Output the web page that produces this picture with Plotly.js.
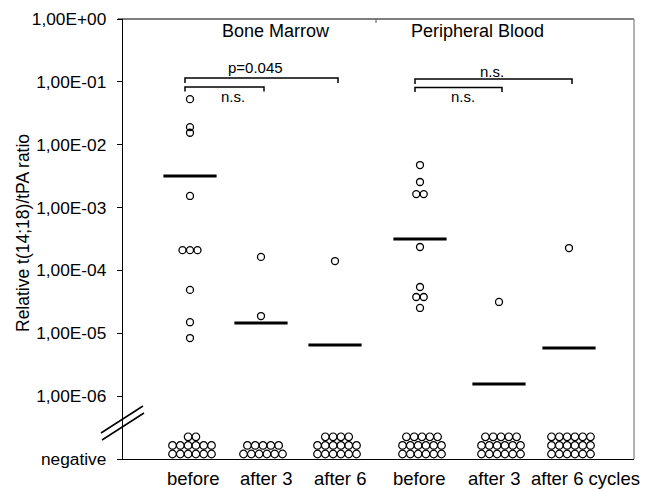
<!DOCTYPE html>
<html>
<head>
<meta charset="utf-8">
<script src="https://cdn.plot.ly/plotly-3.0.1.min.js"></script>
<style>html,body{margin:0;padding:0;background:#fff;}</style>
</head>
<body>
<div id="chart" style="width:646px;height:490px;"></div>
<script>
// ---- data ----
const tickLabels = ['before', 'after 3', 'after 6', 'before', 'after 3', 'after 6 cycles'];
const groups = ['Bone Marrow', 'Peripheral Blood'];
const bmBefore = [5.3e-2, 1.9e-2, 1.55e-2, 1.53e-3, 2.1e-4, 2.1e-4, 2.1e-4, 4.9e-5, 1.5e-5, 8.4e-6];
const bmAfter3 = [1.64e-4, 1.88e-5];
const bmAfter6 = [1.41e-4];
const pbBefore = [4.75e-3, 2.55e-3, 1.64e-3, 1.64e-3, 2.36e-4, 5.45e-5, 3.78e-5, 3.78e-5, 2.53e-5];
const pbAfter3 = [3.15e-5];
const pbAfter6 = [2.27e-4];
const medians = [3.18e-3, 1.46e-5, 6.5e-6, 3.16e-4, 1.56e-6, 5.83e-6];
const negativeCounts = [14, 11, 16, 17, 17, 18];
const yTickVals = [1e-7, 1e-6, 1e-5, 1e-4, 1e-3, 1e-2, 1e-1, 1];
const yTickText = ['negative', '1,00E-06', '1,00E-05', '1,00E-04', '1,00E-03', '1,00E-02', '1,00E-01', '1,00E+00'];
const comparisons = [
  {group: 0, from: 0, to: 2, text: 'p=0.045'},
  {group: 0, from: 0, to: 1, text: 'n.s.'},
  {group: 1, from: 3, to: 5, text: 'n.s.'},
  {group: 1, from: 3, to: 4, text: 'n.s.'}
];

// ---- layout geometry (pixels) ----
const L = 123, R = 634, T = 19, B = 459;
const catX = [190, 261, 335, 420, 499, 569];
const labelX = [193, 266, 340, 419, 494, 585];
const headerX = [276, 477];
const pxX = p => (p - L) / (R - L);
const pxY = p => (B - p) / (B - T);
const decade = (B - T) / 7;
const FONT = 'Liberation Sans, Arial, Helvetica, sans-serif';

const series = [bmBefore, bmAfter3, bmAfter6, pbBefore, pbAfter3, pbAfter6];

// points with horizontal spreading of equal values
const ptX = [], ptY = [];
series.forEach((vals, i) => {
  const seen = {};
  vals.forEach(v => { const k = v.toPrecision(3); seen[k] = (seen[k] || 0) + 1; });
  const idx = {};
  vals.forEach(v => {
    const k = v.toPrecision(3);
    const n = seen[k];
    idx[k] = (idx[k] || 0);
    ptX.push(catX[i] + (idx[k] - (n - 1) / 2) * 7.5);
    ptY.push(v);
    idx[k]++;
  });
});

// negatives stacked in rows of 6
const negX = [], negY = [];
negativeCounts.forEach((n, i) => {
  let r = 0, left = n;
  while (left > 0) {
    const m = Math.min(6, left);
    for (let j = 0; j < m; j++) {
      negX.push(catX[i] + 2 + (j - (m - 1) / 2) * 7.8);
      negY.push(1e-7 * Math.pow(10, (5 + r * 8.6) / decade));
    }
    left -= m; r++;
  }
});

const traces = [
  {x: ptX, y: ptY, type: 'scatter', mode: 'markers', cliponaxis: false, hoverinfo: 'y',
   marker: {symbol: 'circle-open', size: 7, color: '#000', line: {width: 1.3, color: '#000'}}},
  {x: negX, y: negY, type: 'scatter', mode: 'markers', cliponaxis: false, hoverinfo: 'none',
   marker: {symbol: 'circle-open', size: 7.6, color: '#000', line: {width: 1.2, color: '#000'}}},
  {x: catX, y: medians, type: 'scatter', mode: 'markers', cliponaxis: false, hoverinfo: 'y',
   marker: {symbol: 'line-ew', size: 38, color: '#000', line: {width: 3, color: '#000'}}}
];

const shapes = [
  {type: 'line', xref: 'paper', yref: 'paper', x0: pxX(118), x1: 1, y0: 1, y1: 1, line: {color: '#000', width: 1.2}},
  {type: 'line', xref: 'paper', yref: 'paper', x0: 1, x1: 1, y0: 0, y1: 1, line: {color: '#999', width: 1.5}},
  {type: 'line', xref: 'paper', yref: 'paper', x0: pxX(376), x1: pxX(376), y0: 1, y1: pxY(23), line: {color: '#555', width: 1}},
  {type: 'line', xref: 'paper', yref: 'paper', x0: pxX(101), x1: pxX(143), y0: pxY(433), y1: pxY(406), line: {color: '#000', width: 1.5}},
  {type: 'line', xref: 'paper', yref: 'paper', x0: pxX(102), x1: pxX(144), y0: pxY(440), y1: pxY(413), line: {color: '#000', width: 1.5}}
];

const bracketY = [[78, 83, 67], [87, 91.5, 96], [79, 84, 71], [87.5, 92, 97]];
const annotations = [];
comparisons.forEach((c, k) => {
  const [yb, ye, yt] = bracketY[k];
  const x0 = catX[c.from] - 5, x1 = catX[c.to] + 3;
  shapes.push({type: 'path', xref: 'paper', yref: 'paper',
    path: 'M' + pxX(x0) + ',' + pxY(ye) + ' L' + pxX(x0) + ',' + pxY(yb) + ' L' + pxX(x1) + ',' + pxY(yb) + ' L' + pxX(x1) + ',' + pxY(ye),
    line: {color: '#000', width: 1.5}});
});
// shapes path uses paper coordinates only when numbers are in 0..1 -> convert to pixel-based via xref 'paper'
const textX = [255, 233, 492, 463];
comparisons.forEach((c, k) => {
  annotations.push({text: c.text, xref: 'x', yref: 'paper', x: textX[k], y: pxY(bracketY[k][2]),
    showarrow: false, xanchor: 'center', yanchor: 'middle', font: {family: FONT, size: 15, color: '#000'}});
});
groups.forEach((g, i) => {
  annotations.push({text: g, xref: 'x', yref: 'paper', x: headerX[i], y: pxY(31),
    showarrow: false, xanchor: 'center', yanchor: 'middle', font: {family: FONT, size: 18, color: '#000'}});
});
tickLabels.forEach((t, i) => {
  annotations.push({text: t, xref: 'x', yref: 'paper', x: labelX[i], y: pxY(478),
    showarrow: false, xanchor: 'center', yanchor: 'middle', font: {family: FONT, size: 18.5, color: '#000'}});
});
annotations.push({text: 'Relative t(14;18)/tPA ratio', xref: 'paper', yref: 'paper', x: pxX(23), y: pxY(233),
  textangle: -90, showarrow: false, xanchor: 'center', yanchor: 'middle', font: {family: FONT, size: 17.5, color: '#000'}});

const layout = {
  width: 646, height: 490,
  margin: {l: L, r: 646 - R, t: T, b: 490 - B, pad: 0},
  paper_bgcolor: '#fff', plot_bgcolor: '#fff',
  showlegend: false,
  font: {family: FONT, color: '#000'},
  xaxis: {range: [L, R], showgrid: false, zeroline: false, showticklabels: false, ticks: '',
          showline: true, linecolor: '#000', linewidth: 1.2, fixedrange: true},
  yaxis: {type: 'log', range: [-7, 0], showgrid: false, zeroline: false,
          tickvals: yTickVals, ticktext: yTickText, ticks: 'outside', ticklen: 5, tickcolor: '#000', tickwidth: 1,
          ticklabelstandoff: 7, showline: true, linecolor: '#000', linewidth: 1.2,
          tickfont: {family: FONT, size: 17.3, color: '#000'}, fixedrange: true},
  shapes: shapes,
  annotations: annotations
};

Plotly.newPlot('chart', traces, layout, {displayModeBar: false, staticPlot: true});
</script>
</body>
</html>
